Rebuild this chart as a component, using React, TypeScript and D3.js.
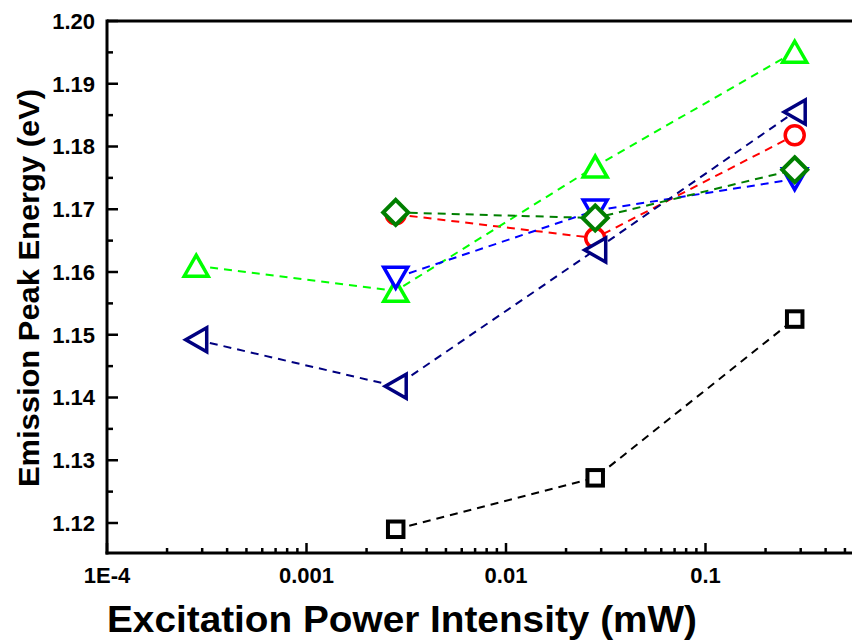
import React from "react";
import * as d3 from "d3";

const powers = [0.00028, 0.0028, 0.028, 0.28];

const blackSquares = [null, 1.119, 1.1272, 1.1525];
const redCircles = [null, 1.1692, 1.1654, 1.1818];
const limeUp = [1.161, 1.157, 1.1768, 1.1951];
const blueDown = [null, 1.1591, 1.1698, 1.1748];
const navyLeft = [1.1492, 1.1418, 1.1635, 1.1855];
const greenDiamond = [null, 1.1695, 1.1686, 1.1763];

const yTicks = [1.12, 1.13, 1.14, 1.15, 1.16, 1.17, 1.18, 1.19, 1.2];
const xTicks = [1e-4, 1e-3, 1e-2, 1e-1];
const xTickLabels = ["1E-4", "0.001", "0.01", "0.1"];

type Series = { vals: (number | null)[]; color: string; shape: string };
const series: Series[] = [
  { vals: blackSquares, color: "#000000", shape: "square" },
  { vals: redCircles, color: "#ff0000", shape: "circle" },
  { vals: limeUp, color: "#00ff00", shape: "up" },
  { vals: blueDown, color: "#0000ff", shape: "down" },
  { vals: navyLeft, color: "#000080", shape: "left" },
  { vals: greenDiamond, color: "#007f00", shape: "diamond" },
];

const W = 852;
const H = 640;
const left = 107;
const top = 21;
const bottom = 553;

const x = d3.scaleLog().domain([1e-4, 1]).range([left, left + 4 * 199.5]);
const y = d3.scaleLinear().domain([1.12, 1.2]).range([523, top]);

function marker(shape: string, cx: number, cy: number, color: string, key: string) {
  const sw = 3.5;
  const common = { fill: "#fff", stroke: color, strokeWidth: sw, strokeLinejoin: "miter" as const };
  if (shape === "square") {
    const s = 15.5;
    return <rect key={key} x={cx - s / 2} y={cy - s / 2} width={s} height={s} {...common} strokeWidth={4} />;
  }
  if (shape === "circle") {
    return <circle key={key} cx={cx} cy={cy} r={9.5} {...common} />;
  }
  if (shape === "diamond") {
    const r = 12.5;
    return <path key={key} d={`M${cx},${cy - r}L${cx + r},${cy}L${cx},${cy + r}L${cx - r},${cy}Z`} {...common} strokeWidth={4} />;
  }
  const b = 12; // half base
  const h = 10.5; // half height
  let d = "";
  if (shape === "up") d = `M${cx},${cy - h}L${cx + b},${cy + h}L${cx - b},${cy + h}Z`;
  if (shape === "down") d = `M${cx},${cy + h}L${cx + b},${cy - h}L${cx - b},${cy - h}Z`;
  if (shape === "left") d = `M${cx - h},${cy}L${cx + h},${cy - b}L${cx + h},${cy + b}Z`;
  return <path key={key} d={d} {...common} />;
}

export default function App() {
  const yMinor: number[] = d3.range(1.115, 1.2, 0.01).filter((v) => y(v) <= bottom);
  const xMinor: number[] = [];
  for (let e = -4; e <= 0; e++) {
    for (let m = 2; m <= 9; m++) {
      const v = m * Math.pow(10, e);
      if (x(v) < W) xMinor.push(v);
    }
  }
  const line = d3
    .line<[number, number | null]>()
    .defined((d) => d[1] !== null)
    .x((d) => x(d[0]))
    .y((d) => y(d[1] as number));

  const font = "'Liberation Sans', Arial, sans-serif";

  return (
    <svg width={W} height={H} style={{ position: "absolute", left: 0, top: 0, background: "#fff" }} fontFamily={font}>
      <rect x={0} y={0} width={W} height={H} fill="#fff" />
      {series.map((s, i) => {
        const pts = powers.map((p, j) => [p, s.vals[j]] as [number, number | null]).filter((d) => d[1] !== null);
        return (
          <g key={i}>
            <path d={line(pts) || ""} fill="none" stroke={s.color} strokeWidth={2} strokeDasharray="8,6" />
            {pts.map((d, j) => marker(s.shape, x(d[0]), y(d[1] as number), s.color, `${i}-${j}`))}
          </g>
        );
      })}
      {/* axes frame */}
      <line x1={left} x2={W + 5} y1={top} y2={top} stroke="#000" strokeWidth={3} />
      <line x1={left} x2={left} y1={top - 1.5} y2={bottom + 1.5} stroke="#000" strokeWidth={3} />
      <line x1={left - 1.5} x2={W + 5} y1={bottom} y2={bottom} stroke="#000" strokeWidth={3} />
      {yTicks.map((t) => (
        <g key={`yt${t}`}>
          <line x1={left} x2={left + 11} y1={y(t)} y2={y(t)} stroke="#000" strokeWidth={2.5} />
          <text x={left - 12} y={y(t)} dy="0.36em" textAnchor="end" fontSize={22} fontWeight="bold">
            {t.toFixed(2)}
          </text>
        </g>
      ))}
      {yMinor.map((t) => (
        <line key={`ym${t}`} x1={left} x2={left + 6} y1={y(t)} y2={y(t)} stroke="#000" strokeWidth={2.5} />
      ))}
      {xTicks.map((t, i) => (
        <g key={`xt${t}`}>
          <line x1={x(t)} x2={x(t)} y1={bottom} y2={bottom - 10} stroke="#000" strokeWidth={2.5} />
          <text x={x(t)} y={583} textAnchor="middle" fontSize={22} fontWeight="bold">
            {xTickLabels[i]}
          </text>
        </g>
      ))}
      {xMinor.map((t) => (
        <line key={`xm${t}`} x1={x(t)} x2={x(t)} y1={bottom} y2={bottom - 5} stroke="#000" strokeWidth={2.5} />
      ))}
      <text x={402} y={632} textAnchor="middle" fontSize={36} fontWeight="bold" textLength={590} lengthAdjust="spacingAndGlyphs">
        Excitation Power Intensity (mW)
      </text>
      <text
        transform={`translate(39,288) rotate(-90)`}
        textAnchor="middle"
        fontSize={30}
        fontWeight="bold"
        textLength={398}
        lengthAdjust="spacingAndGlyphs"
      >
        Emission Peak Energy (eV)
      </text>
    </svg>
  );
}
